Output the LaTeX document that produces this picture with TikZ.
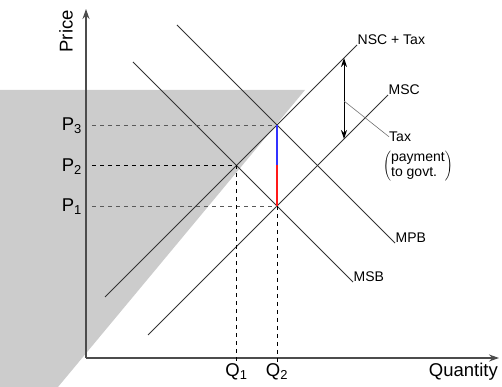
\documentclass[tikz,border=0pt]{standalone}
\usepackage{fontspec}
\setmainfont{Liberation Sans}
\usetikzlibrary{arrows.meta}

\begin{document}
\begin{tikzpicture}[x=1pt, y=1pt, font=\fontsize{14}{15}\selectfont, >={Stealth[length=10pt, width=7pt]}]
    \tikzstyle{curve}=[draw=black!80, line width=0.9pt]
    \tikzstyle{guide}=[dash pattern=on 4pt off 4pt, line width=0.8pt]
    \tikzstyle{axislabel}=[font=\fontsize{18.5}{20}\selectfont]
    \tikzstyle{curvelabel}=[anchor=base west, inner sep=0.5pt]
    \useasboundingbox (0,0) rectangle (502,387);
    \fill[black!20] (0,297) -- (305,297) -- (58,0) -- (0,0) -- cycle;
    % axes
    \coordinate (O) at (86,29);
    \coordinate (ytop) at (86,378);
    \coordinate (xend) at (499,29);
    \draw[black!70, line width=1.3pt, ->] (O) -- (ytop);
    \draw[black!70, line width=1.3pt, ->] (O) -- (xend);
    \node[axislabel, rotate=90, anchor=south east, inner sep=0] (price) at (73,377) {Price};
    \node[axislabel, anchor=north east, inner sep=1pt] (qty) at (499,25) {Quantity};
    % curves
    \coordinate (nscA) at (105,90);   \coordinate (nscB) at (357,342);
    \coordinate (mscA) at (148,52);   \coordinate (mscB) at (388,292);
    \coordinate (mpbA) at (177,362);  \coordinate (mpbB) at (395,144);
    \coordinate (msbA) at (133,325);  \coordinate (msbB) at (353,105);
    \draw[curve] (nscA) -- (nscB);
    \draw[curve] (mscA) -- (mscB);
    \draw[curve] (mpbA) -- (mpbB);
    \draw[curve] (msbA) -- (msbB);
    \node[curvelabel] (nsc) at (nscB) {NSC + Tax};
    \node[curvelabel] (msc) at (mscB) {MSC};
    \node[curvelabel] (mpb) at (mpbB) {MPB};
    \node[curvelabel] (msb) at (msbB) {MSB};
    % equilibria
    \coordinate (e3) at (277,262);
    \coordinate (e2) at (236.5,221.5);
    \coordinate (e1) at (277,181);
    \coordinate (em) at (277,221.5);
    \node[axislabel, anchor=east, inner sep=0] (p3) at (82,261) {P\textsubscript{3}};
    \node[axislabel, anchor=east, inner sep=0] (p2) at (82,220.5) {P\textsubscript{2}};
    \node[axislabel, anchor=east, inner sep=0] (p1) at (82,180) {P\textsubscript{1}};
    \node[axislabel, anchor=north, inner sep=1pt] (q1) at (236.5,25) {Q\textsubscript{1}};
    \node[axislabel, anchor=north, inner sep=1pt] (q2) at (277,25) {Q\textsubscript{2}};
    \coordinate (a3) at (92,262);
    \coordinate (a2) at (92,221.5);
    \coordinate (a1) at (92,181);
    \draw[guide, black!65] (a3) -- (e3);
    \draw[guide] (a2) -- (e2);
    \draw[guide, black!65] (a1) -- (e1);
    \draw[guide] (e2) -- (q1.north);
    \draw[guide] (e1) -- (q2.north);
    \draw[blue!80, line width=1.2pt] (e3) -- (em);
    \draw[red!90, line width=1.2pt] (em) -- (e1);
    % tax wedge
    \coordinate (tt) at (344,329);
    \coordinate (tb) at (344,248);
    \coordinate (tm) at (344,286);
    \draw[line width=1pt, <->, >={Stealth[length=9pt, width=6pt]}] (tt) -- (tb);
    \node[anchor=base west, inner sep=0] (tax) at (389,245.5) {Tax};
    \draw[black!55, line width=0.6pt] (tm) -- (tax.west);
    \node[inner sep=0] (govt) at (418,221) {$\left(\begin{tabular}{@{}l@{}}payment\\to govt.\end{tabular}\right)$};
\end{tikzpicture}
\end{document}
